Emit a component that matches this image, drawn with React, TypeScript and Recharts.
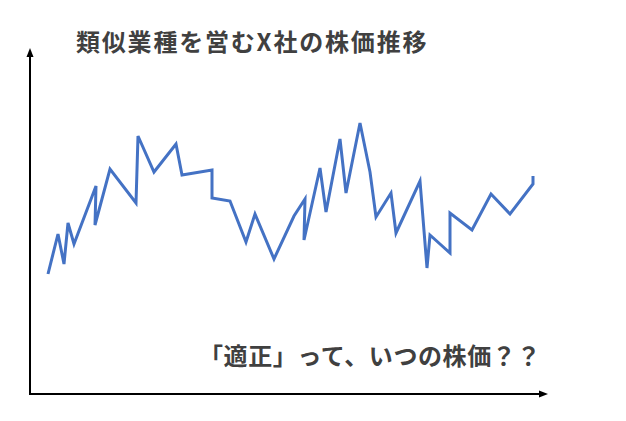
import React from 'react';
import {LineChart, Line, XAxis, YAxis, ReferenceLine} from 'recharts';

// trading day and closing price of X社
const days = [
	9, 14, 17, 19, 22, 33, 32.5, 40, 53, 54, 62, 73, 76, 91, 91, 100, 108, 112.5, 122, 132, 137.5,
	137, 145, 148, 155, 158, 165, 170, 173, 180.5, 183, 195, 198.5, 200, 210, 210, 221, 230.5, 240,
	251.5, 251.5,
];
const prices = [
	600, 800, 650, 855, 750, 1040, 845, 1125, 955, 1290, 1110, 1250, 1095, 1120, 980, 965, 760, 900,
	675, 890, 975, 770, 1130, 910, 1275, 1005, 1355, 1110, 885, 1005, 805, 1065, 630, 795, 705, 905,
	820, 1000, 900, 1050, 1090,
];

const title = '類似業種を営むX社の株価推移';
const caption = '「適正」って、いつの株価？？';

const data = days.map((day, i) => ({day, price: prices[i]}));

const font = '"Noto Sans CJK JP", "Noto Sans", sans-serif';

// axis line with a filled arrowhead at its far end
const ArrowAxis = (props: any) => {
	const {x1, y1, x2, y2} = props;
	const vertical = Math.abs(x1 - x2) < 1;
	const tipX = vertical ? x1 : Math.max(x1, x2);
	const tipY = vertical ? Math.min(y1, y2) : y1;
	const startX = vertical ? x1 : Math.min(x1, x2);
	const startY = vertical ? Math.max(y1, y2) + 1 : y1;
	const head = vertical
		? `${tipX},${tipY} ${tipX - 3.5},${tipY + 9} ${tipX + 3.5},${tipY + 9}`
		: `${tipX},${tipY} ${tipX - 9},${tipY - 3.5} ${tipX - 9},${tipY + 3.5}`;
	const endX = vertical ? tipX : tipX - 8;
	const endY = vertical ? tipY + 8 : tipY;
	return (
		<g>
			<line x1={startX} y1={startY} x2={endX} y2={endY} stroke={'#000'} strokeWidth={2}/>
			<polygon points={head} fill={'#000'}/>
		</g>
	);
};

const App = () => {
	return (
		<div style={{position: 'absolute', left: 0, top: 0, width: 626, height: 421, background: '#fff'}}>
			<LineChart width={626} height={421} data={data} margin={{top: 48, right: 78, bottom: 27, left: 30}}>
				<XAxis dataKey={'day'} type={'number'} domain={[0, 259]} hide/>
				<YAxis type={'number'} domain={[0, 1730]} hide/>
				<ReferenceLine x={0} ifOverflow={'visible'} shape={<ArrowAxis/>}/>
				<ReferenceLine y={0} ifOverflow={'visible'} shape={<ArrowAxis/>}/>
				<Line dataKey={'price'} type={'linear'} stroke={'#4472C4'} strokeWidth={3} dot={false}
					  strokeLinejoin={'miter'} isAnimationActive={false}/>
			</LineChart>
			<div style={{position: 'absolute', left: 76, top: 29, fontFamily: font, fontSize: 24, fontWeight: 700,
				lineHeight: '24px', letterSpacing: 1.8, color: '#404040', whiteSpace: 'nowrap'}}>
				{title}
			</div>
			<div style={{position: 'absolute', left: 199, top: 343, fontFamily: font, fontSize: 24, fontWeight: 700,
				lineHeight: '24px', letterSpacing: 0.6, color: '#404040', whiteSpace: 'nowrap'}}>
				{caption}
			</div>
		</div>
	);
};

export default App;
